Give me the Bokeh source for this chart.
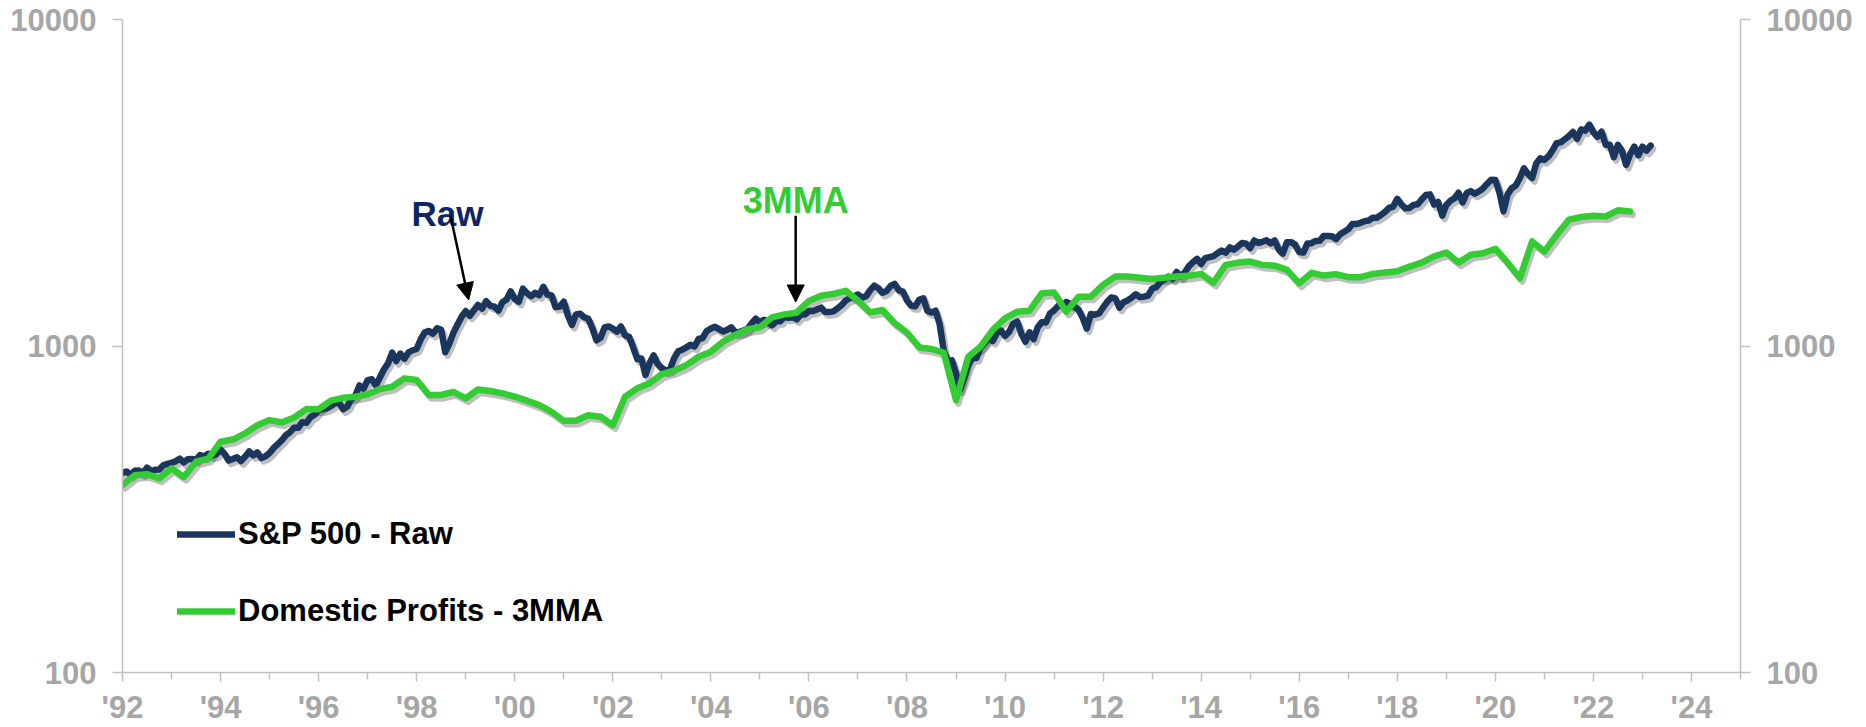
from bokeh.plotting import figure
from bokeh.models import (LogAxis, FixedTicker, Range1d, ColumnDataSource, Legend,
                          LegendItem, Label, Arrow, NormalHead, CustomJSTickFormatter)
from bokeh.embed import file_html
from bokeh.resources import INLINE

# ---------------- data ----------------
sp500_start_year = 1992   # monthly, first value = Jan 1992
sp500_raw = [
    408.8, 412.7, 403.7, 414.9, 415.4, 408.1, 424.2, 414.0, 417.8, 418.7, 431.4, 435.7,
    438.8, 443.4, 451.7, 440.2, 450.2, 451.0, 448.1, 463.6, 458.9, 467.8, 461.8, 466.5,
    481.6, 467.1, 445.8, 450.9, 456.5, 444.3, 458.3, 475.5, 462.7, 472.4, 453.7, 459.3,
    470.4, 487.4, 500.7, 514.7, 533.4, 544.8, 562.1, 561.9, 584.4, 581.5, 605.4, 615.9,
    636.0, 640.4, 645.5, 654.2, 669.1, 670.6, 639.9, 652.0, 687.3, 705.3, 757.0, 740.7,
    786.2, 790.8, 757.1, 801.3, 848.3, 885.1, 954.3, 899.5, 947.3, 914.6, 955.4, 970.4,
    980.3, 1049.3, 1101.8, 1111.8, 1090.8, 1133.8, 1120.7, 957.3, 1017.0, 1098.7, 1163.6, 1229.2,
    1279.6, 1238.3, 1286.4, 1335.2, 1301.8, 1372.7, 1328.7, 1320.4, 1282.7, 1362.9, 1388.9, 1469.3,
    1394.5, 1366.4, 1498.6, 1452.4, 1420.6, 1454.6, 1430.8, 1517.7, 1436.5, 1429.4, 1315.2, 1320.3,
    1366.0, 1239.9, 1160.3, 1249.5, 1255.8, 1224.4, 1211.2, 1133.6, 1040.9, 1059.8, 1139.5, 1148.1,
    1130.2, 1106.7, 1147.4, 1076.9, 1067.1, 989.8, 911.6, 916.1, 815.3, 885.8, 936.3, 879.8,
    855.7, 841.2, 848.2, 916.9, 963.6, 974.5, 990.3, 1008.0, 996.0, 1050.7, 1058.2, 1111.9,
    1131.1, 1144.9, 1126.2, 1107.3, 1120.7, 1140.8, 1101.7, 1104.2, 1114.6, 1130.2, 1173.8, 1211.9,
    1181.3, 1203.6, 1180.6, 1156.9, 1191.5, 1191.3, 1234.2, 1220.3, 1228.8, 1207.0, 1249.5, 1248.3,
    1280.1, 1280.7, 1294.8, 1310.6, 1270.1, 1270.2, 1276.7, 1303.8, 1335.9, 1377.9, 1400.6, 1418.3,
    1438.2, 1406.8, 1420.9, 1482.4, 1530.6, 1503.4, 1455.3, 1474.0, 1526.8, 1549.4, 1481.1, 1468.4,
    1378.6, 1330.6, 1322.7, 1385.6, 1400.4, 1280.0, 1267.4, 1282.8, 1166.4, 968.8, 896.2, 903.3,
    825.9, 735.1, 797.9, 872.8, 919.1, 919.3, 987.5, 1020.6, 1057.1, 1036.2, 1095.6, 1115.1,
    1073.9, 1104.5, 1169.4, 1186.7, 1089.4, 1030.7, 1101.6, 1049.3, 1141.2, 1183.3, 1180.6, 1257.6,
    1286.1, 1327.2, 1325.8, 1363.6, 1345.2, 1320.6, 1292.3, 1218.9, 1131.4, 1253.3, 1247.0, 1257.6,
    1312.4, 1365.7, 1408.5, 1397.9, 1310.3, 1362.2, 1379.3, 1406.6, 1440.7, 1412.2, 1416.2, 1426.2,
    1498.1, 1514.7, 1569.2, 1597.6, 1630.7, 1606.3, 1685.7, 1633.0, 1681.6, 1756.5, 1805.8, 1848.4,
    1782.6, 1859.5, 1872.3, 1884.0, 1923.6, 1960.2, 1930.7, 2003.4, 1972.3, 2018.1, 2067.6, 2058.9,
    1995.0, 2104.5, 2067.9, 2085.5, 2107.4, 2063.1, 2103.8, 1972.2, 1920.0, 2079.4, 2080.4, 2043.9,
    1940.2, 1932.2, 2059.7, 2065.3, 2097.0, 2098.9, 2173.6, 2171.0, 2168.3, 2126.2, 2198.8, 2238.8,
    2278.9, 2363.6, 2362.7, 2384.2, 2411.8, 2423.4, 2470.3, 2471.7, 2519.4, 2575.3, 2647.6, 2673.6,
    2823.8, 2713.8, 2640.9, 2648.1, 2705.3, 2718.4, 2816.3, 2901.5, 2914.0, 2711.7, 2760.2, 2506.9,
    2704.1, 2784.5, 2834.4, 2945.8, 2752.1, 2941.8, 2980.4, 2926.5, 2976.7, 3037.6, 3141.0, 3230.8,
    3225.5, 2954.2, 2584.6, 2912.4, 3044.3, 3100.3, 3271.1, 3500.3, 3363.0, 3270.0, 3621.6, 3756.1,
    3714.2, 3811.2, 3972.9, 4181.2, 4204.1, 4297.5, 4395.3, 4522.7, 4307.5, 4605.4, 4567.0, 4766.2,
    4515.6, 4373.9, 4530.4, 4131.9, 4132.2, 3785.4, 4130.3, 3955.0, 3585.6, 3872.0, 4080.1, 3839.5,
    4076.6, 3970.2, 4109.3,
]

profits_start_year = 1992  # quarterly, first value at start of 1992
profits_3mma = [
    375, 402, 405, 393,
    422, 397, 442, 452,
    509, 517, 540, 572,
    593, 583, 604, 641,
    640, 680, 694, 699,
    711, 738, 750, 796,
    787, 708, 708, 723,
    691, 736, 728, 716,
    700, 680, 659, 629,
    590, 590, 614, 607,
    572, 699, 742, 769,
    820, 840, 874, 927,
    961, 1031, 1081, 1125,
    1141, 1224, 1250, 1265,
    1374, 1426, 1444, 1476,
    1377, 1268, 1289, 1174,
    1100, 990, 979, 954,
    683, 927, 995, 1120,
    1216, 1274, 1283, 1451,
    1458, 1274, 1416, 1416,
    1539, 1632, 1632, 1618,
    1603, 1618, 1632, 1640,
    1663, 1564, 1772, 1801,
    1814, 1772, 1762, 1710,
    1555, 1675, 1643, 1660,
    1625, 1625, 1663, 1678,
    1695, 1751, 1801, 1881,
    1934, 1801, 1902, 1924,
    1986, 1800, 1614, 2091,
    1946, 2190, 2437, 2483,
    2506, 2493, 2603, 2583,
]

series_names = ["S&P 500 - Raw", "Domestic Profits - 3MMA"]
x_tick_years = list(range(1992, 2025, 2))
x_minor_years = list(range(1993, 2026, 2))
y_ticks = [100, 1000, 10000]

# ---------------- styles ----------------
NAVY = "#1B365D"
GREEN = "#33CC33"
GRAY_TXT = "#A6A6A6"
AXIS_CLR = "#C0C0C0"
FONT = "Liberation Sans"

sp_x = [sp500_start_year + i / 12.0 for i in range(len(sp500_raw))]
pr_x = [profits_start_year + i / 4.0 for i in range(len(profits_3mma))]

src_sp = ColumnDataSource(dict(x=sp_x, y=sp500_raw))
src_pr = ColumnDataSource(dict(x=pr_x, y=profits_3mma))

shadow_dx, shadow_fy = 0.05, 0.976
src_sp_sh = ColumnDataSource(dict(x=[v + shadow_dx for v in sp_x], y=[v * shadow_fy for v in sp500_raw]))
src_pr_sh = ColumnDataSource(dict(x=[v + shadow_dx for v in pr_x], y=[v * shadow_fy for v in profits_3mma]))

p = figure(width=1866, height=727, x_range=Range1d(1992, 2025), y_range=Range1d(100, 10000),
           y_axis_type="log", output_backend="svg", toolbar_location=None,
           min_border_left=122, min_border_right=126, min_border_top=19, min_border_bottom=54)
p.xgrid.visible = False
p.ygrid.visible = False
p.outline_line_color = None
p.background_fill_color = "white"
p.border_fill_color = "white"

fmt_y = CustomJSTickFormatter(code="return tick.toFixed(0);")
fmt_x = CustomJSTickFormatter(code="var v = Math.round(tick) % 100; return \"'\" + (v < 10 ? '0' + v : '' + v);")


def style_axis(ax):
    ax.axis_line_color = AXIS_CLR
    ax.axis_line_width = 1.5
    ax.major_tick_line_color = AXIS_CLR
    ax.minor_tick_line_color = AXIS_CLR
    ax.major_tick_line_width = 1.5
    ax.minor_tick_line_width = 1.5
    ax.major_tick_in = 0
    ax.minor_tick_in = 0
    ax.major_label_text_font = FONT
    ax.major_label_text_font_style = "bold"
    ax.major_label_text_font_size = "31px"
    ax.major_label_text_color = GRAY_TXT


yl = p.yaxis[0]
yl.ticker = FixedTicker(ticks=y_ticks, minor_ticks=[])
yl.formatter = fmt_y
style_axis(yl)
yl.major_tick_out = 10
yl.major_label_standoff = 16

yr = LogAxis(ticker=FixedTicker(ticks=y_ticks, minor_ticks=[]), formatter=fmt_y)
style_axis(yr)
yr.major_tick_out = 10
yr.major_label_standoff = 16
p.add_layout(yr, "right")

xa = p.xaxis[0]
xa.ticker = FixedTicker(ticks=x_tick_years, minor_ticks=x_minor_years)
xa.formatter = fmt_x
style_axis(xa)
xa.major_tick_out = 9
xa.minor_tick_out = 7
xa.major_label_standoff = 8

# shadows
for s in (src_sp_sh, src_pr_sh):
    p.line("x", "y", source=s, line_color="black", line_alpha=0.25, line_width=6.5,
           line_join="round", line_cap="round")

r_sp = p.line("x", "y", source=src_sp, line_color=NAVY, line_width=6.5, line_join="round", line_cap="round")
r_pr = p.line("x", "y", source=src_pr, line_color=GREEN, line_width=6.5, line_join="round", line_cap="round")

legend = Legend(items=[LegendItem(label=series_names[0], renderers=[r_sp]),
                       LegendItem(label=series_names[1], renderers=[r_pr])],
                location=(55, 43), orientation="vertical",
                label_text_font=FONT, label_text_font_style="bold", label_text_font_size="31px",
                label_text_color="black", glyph_width=58, glyph_height=36, label_height=36,
                label_standoff=3, spacing=41, padding=0, margin=0,
                border_line_alpha=0, background_fill_alpha=0)
p.add_layout(legend)

# annotations
raw_label_pos = (1998.63, 2541)
mma_label_pos = (2005.73, 2785)
raw_arrow = (1998.69, 2505, 1999.06, 1384)
mma_arrow = (2005.73, 2505, 2005.73, 1364)

p.add_layout(Label(x=raw_label_pos[0], y=raw_label_pos[1], text="Raw", text_align="center",
                   text_baseline="alphabetic", text_font=FONT, text_font_style="bold",
                   text_font_size="35px", text_color="#0F2563"))
p.add_layout(Label(x=mma_label_pos[0], y=mma_label_pos[1], text="3MMA", text_align="center",
                   text_baseline="alphabetic", text_font=FONT, text_font_style="bold",
                   text_font_size="36px", text_color=GREEN))
for (xs, ys, xe, ye) in (raw_arrow, mma_arrow):
    p.add_layout(Arrow(end=NormalHead(size=17, fill_color="black", line_color="black"),
                       x_start=xs, y_start=ys, x_end=xe, y_end=ye,
                       line_color="black", line_width=2.5))

open("out.html", "w").write(file_html(p, INLINE))
